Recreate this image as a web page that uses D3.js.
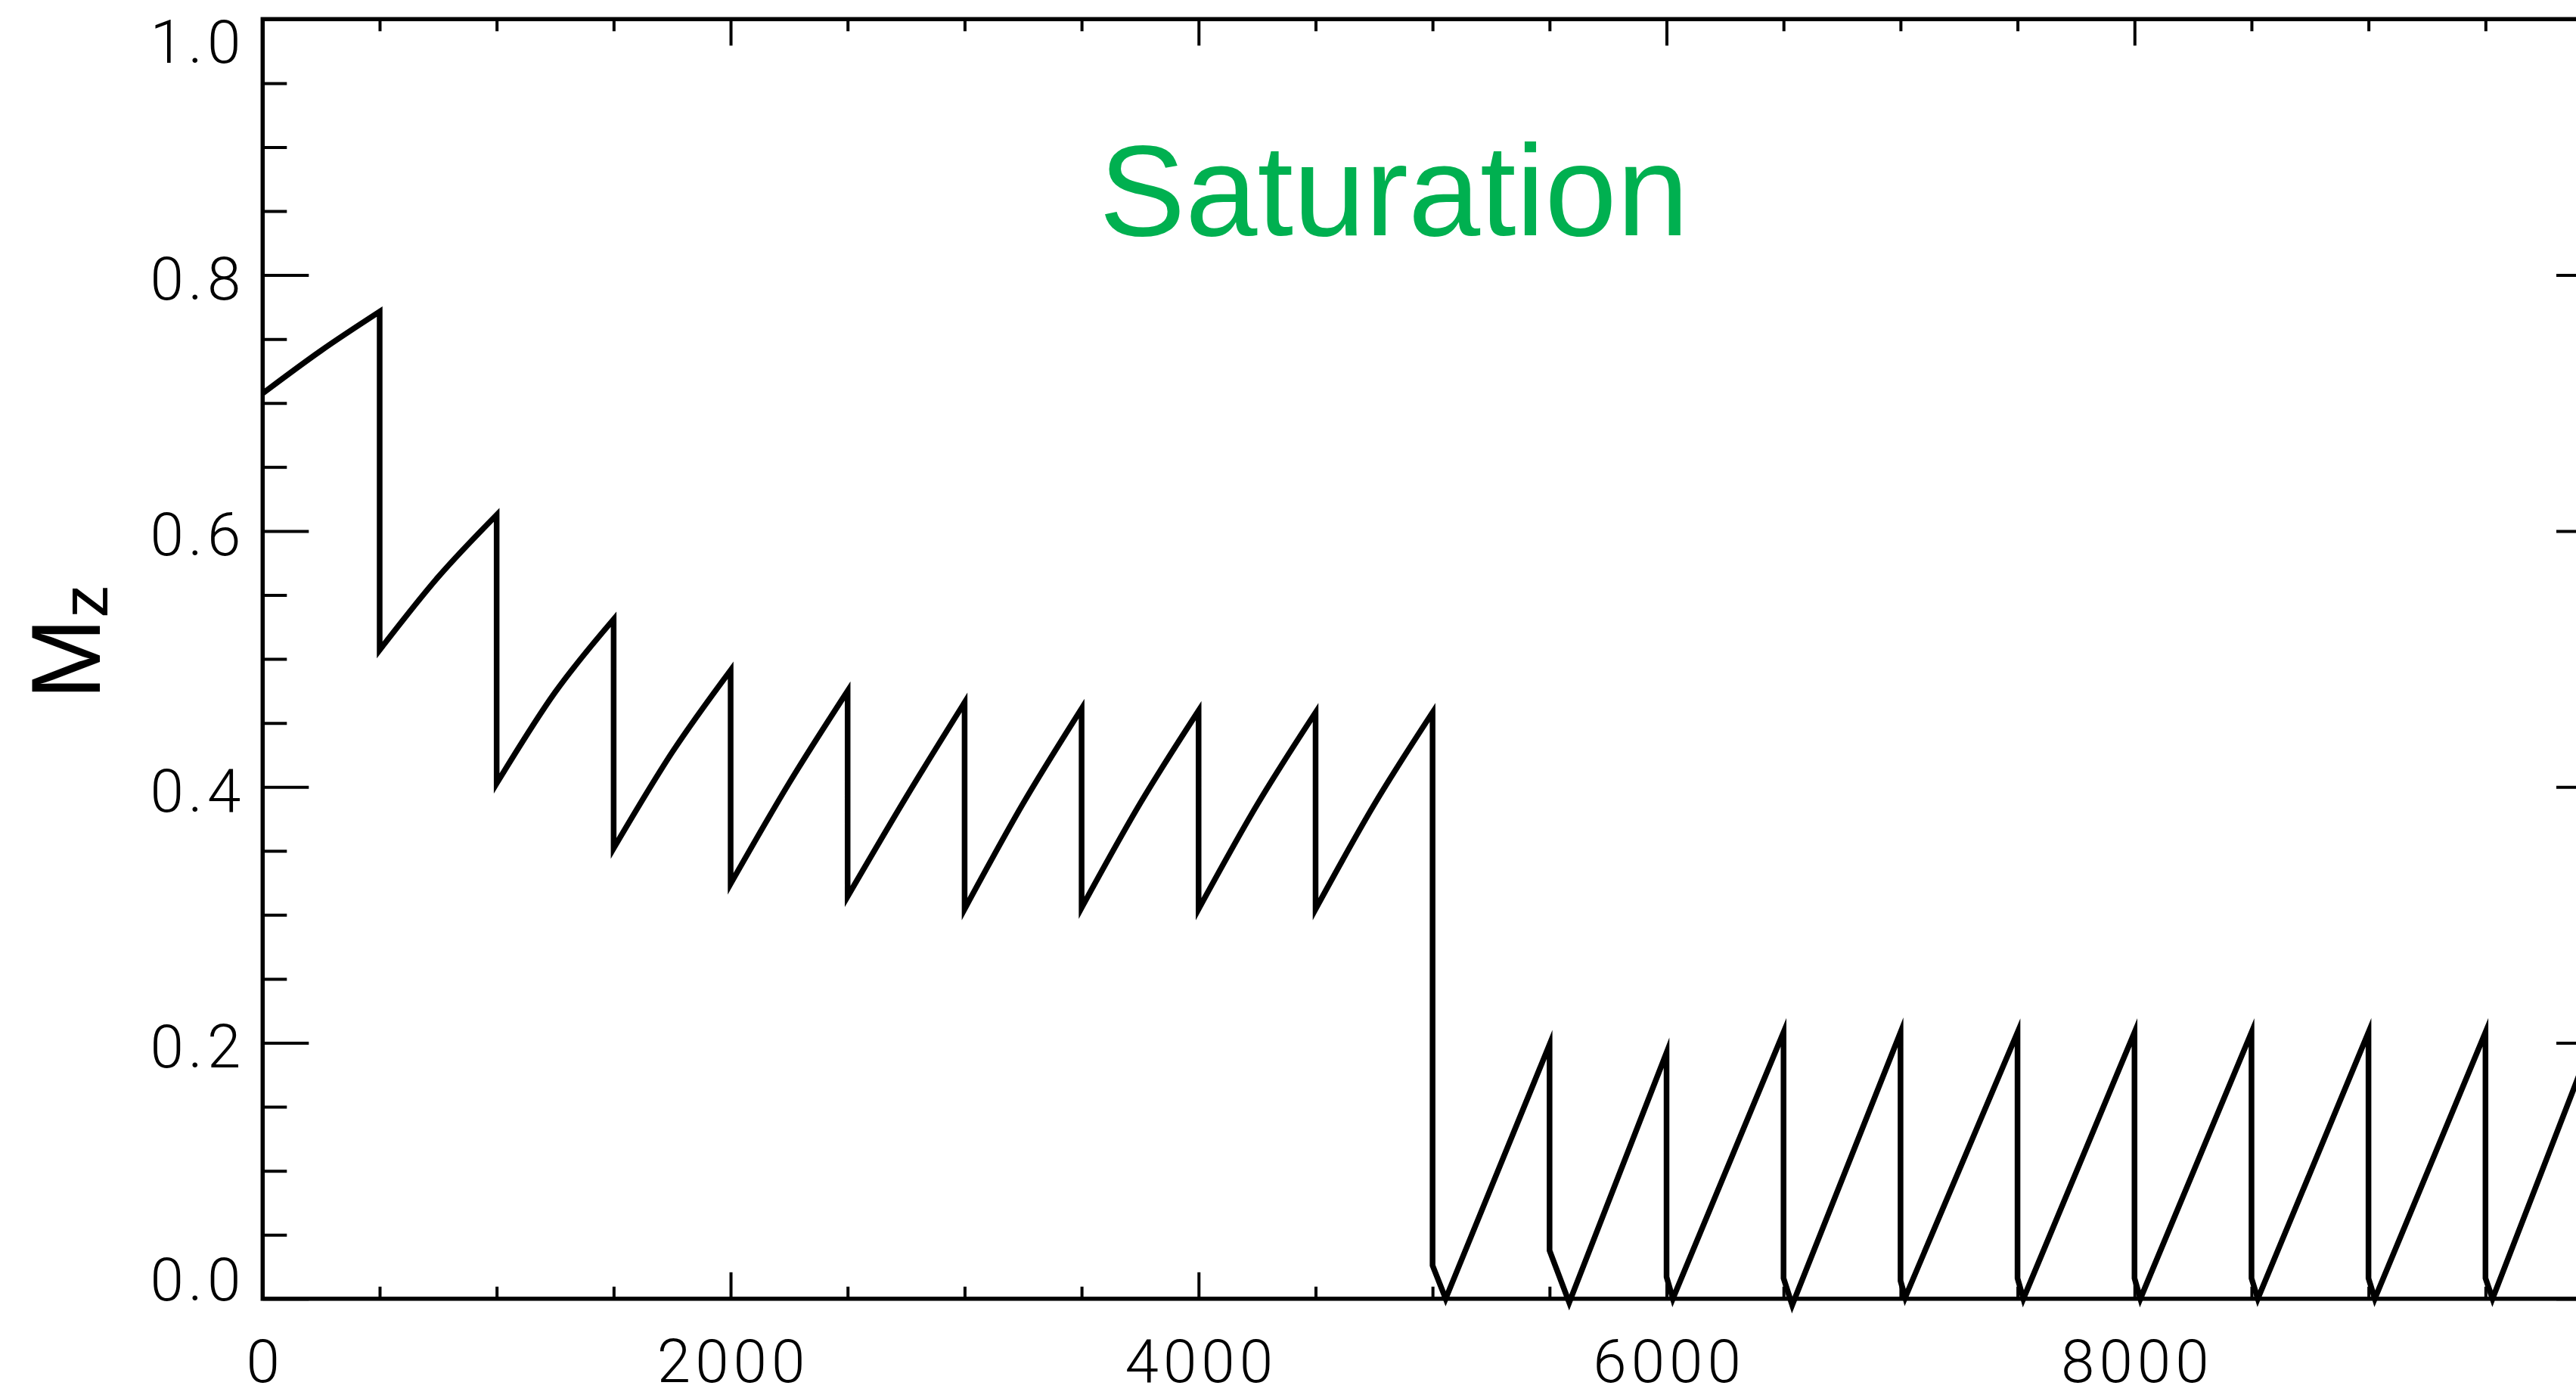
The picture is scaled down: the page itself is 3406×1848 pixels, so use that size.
<!DOCTYPE html>
<html>
<head>
<meta charset="utf-8">
<script src="https://cdn.jsdelivr.net/npm/d3@7"></script>
<style>
  html, body { margin: 0; padding: 0; background: #ffffff; }
  svg { display: block; }
</style>
</head>
<body>
<svg id="chart" width="3406" height="1848"></svg>
<script>
// ---------------- DATA ----------------
// Regime 1 (0–5000): each recovery ramp = start (after drop), middle, peak
const rampStartT  = [0, 500, 1000, 1500, 2000, 2500, 3000, 3500, 4000, 4500];
const rampStartMz = [0.7075, 0.507, 0.4027, 0.352, 0.3243, 0.3144, 0.3045, 0.3055, 0.3045, 0.3045];
const rampMidT    = [250, 750, 1250, 1750, 2250, 2750, 3250, 3750, 4250, 4750];
const rampMidMz   = [0.741, 0.564, 0.474, 0.427, 0.403, 0.392, 0.387, 0.387, 0.386, 0.386];
const rampPeakT   = [500, 1000, 1500, 2000, 2500, 3000, 3500, 4000, 4500, 5000];
const rampPeakMz  = [0.7714, 0.6126, 0.531, 0.4912, 0.475, 0.466, 0.4612, 0.4596, 0.4582, 0.4582];

// Regime 2 (5000–10000): drop bottom, small V minimum, peak
const pulseDropT  = [5000, 5500, 6000, 6500, 7000, 7500, 8000, 8500, 9000, 9500];
const pulseDropMz = [0.026, 0.0377, 0.017, 0.016, 0.014, 0.016, 0.016, 0.016, 0.016, 0.016];
const pulseMinT   = [5056, 5584, 6027, 6537, 7020, 7525, 8025, 8527, 9027, 9530];
const pulseMinMz  = [0.0, -0.003, 0.0, -0.005, 0.001, 0.0, 0.0, 0.0, 0.0, 0.0];
const pulsePeakT  = [5500, 6000, 6500, 7000, 7500, 8000, 8500, 9000, 9500, 10000];
const pulsePeakMz = [0.1987, 0.1923, 0.2082, 0.2082, 0.2082, 0.2082, 0.2082, 0.2082, 0.2082, 0.222];

// Axes
const xDomain = [0, 10000];
const yDomain = [0, 1];
const xMajorTicks  = [0, 2000, 4000, 6000, 8000];
const xTickLabels  = ["0", "2000", "4000", "6000", "8000"];
const xMinorTicks  = [500, 1000, 1500, 2500, 3000, 3500, 4500, 5000, 5500, 6500, 7000, 7500, 8500, 9000, 9500];
const yMajorTicks  = [0, 0.2, 0.4, 0.6, 0.8, 1.0];
const yTickLabels  = ["0.0", "0.2", "0.4", "0.6", "0.8", "1.0"];
const yMinorTicks  = [0.05, 0.1, 0.15, 0.25, 0.3, 0.35, 0.45, 0.5, 0.55, 0.65, 0.7, 0.75, 0.85, 0.9, 0.95];

const titleText = "Saturation";
const yTitleMain = "M";
const yTitleSub = "z";

// ---------------- LAYOUT ----------------
const L = 347.3, R = 3441, T = 25.3, B = 1716.8;
const svg = d3.select("#chart");

const x = d3.scaleLinear().domain(xDomain).range([L, R]);
const y = d3.scaleLinear().domain(yDomain).range([B, T]);

const tickFont = "Roboto, 'DejaVu Sans', sans-serif";
const textFont = "'Liberation Sans', Arial, Helvetica, sans-serif";
const tickW = 4;

function styleTicks(g, w) {
  g.select(".domain").remove();
  g.selectAll(".tick line").attr("stroke", "#000").attr("stroke-width", w);
}

// bottom
svg.append("g").attr("transform", `translate(0,${B})`)
  .call(d3.axisBottom(x).tickValues(xMinorTicks).tickSize(-16).tickSizeOuter(0).tickFormat(""))
  .call(g => styleTicks(g, tickW));
const xb = svg.append("g").attr("transform", `translate(0,${B})`)
  .call(d3.axisBottom(x).tickValues(xMajorTicks).tickSize(-35).tickSizeOuter(0)
        .tickFormat((d, i) => xTickLabels[i]))
  .call(g => styleTicks(g, tickW));
xb.selectAll(".tick text")
  .attr("x", 3).attr("y", 110).attr("dy", 0)
  .attr("font-family", tickFont).attr("font-weight", 300)
  .attr("letter-spacing", 6)
  .attr("font-size", 80).attr("fill", "#000");

// top
svg.append("g").attr("transform", `translate(0,${T})`)
  .call(d3.axisTop(x).tickValues(xMinorTicks).tickSize(-16).tickSizeOuter(0).tickFormat(""))
  .call(g => styleTicks(g, tickW));
svg.append("g").attr("transform", `translate(0,${T})`)
  .call(d3.axisTop(x).tickValues(xMajorTicks.concat([10000])).tickSize(-35).tickSizeOuter(0).tickFormat(""))
  .call(g => styleTicks(g, tickW));

// left
svg.append("g").attr("transform", `translate(${L},0)`)
  .call(d3.axisLeft(y).tickValues(yMinorTicks).tickSize(-32).tickSizeOuter(0).tickFormat(""))
  .call(g => styleTicks(g, tickW));
const yl = svg.append("g").attr("transform", `translate(${L},0)`)
  .call(d3.axisLeft(y).tickValues(yMajorTicks).tickSize(-61).tickSizeOuter(0)
        .tickFormat((d, i) => yTickLabels[i]))
  .call(g => styleTicks(g, tickW));
yl.selectAll(".tick text")
  .attr("x", -23).attr("dy", 0)
  .attr("y", d => d === 1 ? 57 : (d === 0 ? 2 : 32))
  .attr("font-family", tickFont).attr("font-weight", 300)
  .attr("letter-spacing", 6)
  .attr("font-size", 80).attr("fill", "#000");

// right
svg.append("g").attr("transform", `translate(${R},0)`)
  .call(d3.axisRight(y).tickValues(yMinorTicks).tickSize(-32).tickSizeOuter(0).tickFormat(""))
  .call(g => styleTicks(g, tickW));
svg.append("g").attr("transform", `translate(${R},0)`)
  .call(d3.axisRight(y).tickValues(yMajorTicks).tickSize(-61).tickSizeOuter(0).tickFormat(""))
  .call(g => styleTicks(g, tickW));

// frame
svg.append("rect")
  .attr("x", x(xDomain[0])).attr("y", y(yDomain[1]))
  .attr("width", x(xDomain[1]) - x(xDomain[0]))
  .attr("height", y(yDomain[0]) - y(yDomain[1]))
  .attr("fill", "none").attr("stroke", "#000").attr("stroke-width", 5.5);

// ---------------- DATA LINE ----------------
const smooth = d3.line().x(d => x(d[0])).y(d => y(d[1])).curve(d3.curveMonotoneX);
const straight = d3.line().x(d => x(d[0])).y(d => y(d[1]));
let pathD = "";
rampStartT.forEach((t, i) => {
  const seg = smooth([[t, rampStartMz[i]], [rampMidT[i], rampMidMz[i]], [rampPeakT[i], rampPeakMz[i]]]);
  pathD += (pathD ? "L" + seg.slice(1) : seg);
});
pulseDropT.forEach((t, i) => {
  const seg = straight([[t, pulseDropMz[i]], [pulseMinT[i], pulseMinMz[i]], [pulsePeakT[i], pulsePeakMz[i]]]);
  pathD += "L" + seg.slice(1);
});
svg.append("path")
  .attr("d", pathD)
  .attr("fill", "none").attr("stroke", "#000")
  .attr("stroke-width", 7.5)
  .attr("stroke-linejoin", "miter").attr("stroke-miterlimit", 6);

// ---------------- TEXT ----------------
svg.append("text")
  .attr("x", 1843).attr("y", 310.7)
  .attr("text-anchor", "middle")
  .attr("font-family", textFont).attr("font-size", 171)
  .attr("fill", "#00b050")
  .text(titleText);

const yt = svg.append("text")
  .attr("transform", "translate(132,925) rotate(-90)")
  .attr("text-anchor", "start")
  .attr("font-family", textFont).attr("font-size", 130)
  .attr("fill", "#000");
yt.append("tspan").text(yTitleMain);
yt.append("tspan").attr("font-size", 88).attr("dy", 10).text(yTitleSub);
</script>
</body>
</html>
